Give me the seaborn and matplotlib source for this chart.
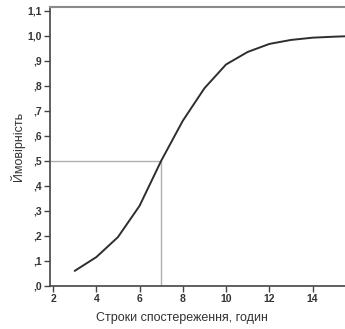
import matplotlib.pyplot as plt
import seaborn as sns
import numpy as np
import pandas as pd

hours = [3, 4, 5, 6, 7, 8, 9, 10, 11, 12, 13, 14, 15, 16]
prob = [0.06, 0.115, 0.195, 0.32, 0.50, 0.66, 0.79, 0.885, 0.935, 0.967, 0.983, 0.992, 0.996, 0.999]

x_ticks = [2, 4, 6, 8, 10, 12, 14]
y_ticks = [0.0, 0.1, 0.2, 0.3, 0.4, 0.5, 0.6, 0.7, 0.8, 0.9, 1.0, 1.1]
y_labels = [",0", ",1", ",2", ",3", ",4", ",5", ",6", ",7", ",8", ",9", "1,0", "1,1"]

ref_x = 7
ref_y = 0.5

sns.set_theme(style="white")
plt.rcParams['font.family'] = ['Liberation Sans', 'DejaVu Sans']

df = pd.DataFrame({"hours": hours, "prob": prob})

fig = plt.figure(figsize=(3.45, 3.29), dpi=100)
ax = fig.add_axes([0.145, 0.131, 0.855, 0.848])

# reference lines at p = 0.5
ax.plot([1.8, ref_x], [ref_y, ref_y], color='#b0b0b0', lw=1.0, zorder=1)
ax.plot([ref_x, ref_x], [0, ref_y], color='#b0b0b0', lw=1.0, zorder=1)

sns.lineplot(data=df, x="hours", y="prob", ax=ax, color='#2e2e2e', lw=1.4, zorder=3)

ax.set_xlim(1.86, 15.5)
ax.set_ylim(0, 1.115)
ax.set_xticks(x_ticks)
ax.set_yticks(y_ticks)
ax.set_yticklabels(y_labels)
ax.tick_params(axis='both', direction='out', length=4, width=1, color='#444444',
               labelsize=7.5, labelcolor='#333333', pad=2, bottom=True, left=True)
for lbl in ax.get_xticklabels() + ax.get_yticklabels():
    lbl.set_fontweight('bold')

ax.set_xlabel("Строки спостереження, годин", fontsize=9, color='#333333')
ax.set_ylabel("Ймовірність", fontsize=9, color='#333333')
ax.xaxis.set_label_coords(0.447, -0.095)
ax.yaxis.set_label_coords(-0.085, 0.5)

for side in ['left', 'bottom']:
    ax.spines[side].set_color('#444444')
    ax.spines[side].set_linewidth(1.2)
ax.spines['top'].set_color('#8a8a8a')
ax.spines['top'].set_linewidth(1.5)
ax.spines['right'].set_visible(False)

plt.savefig("out.png", dpi=100)
